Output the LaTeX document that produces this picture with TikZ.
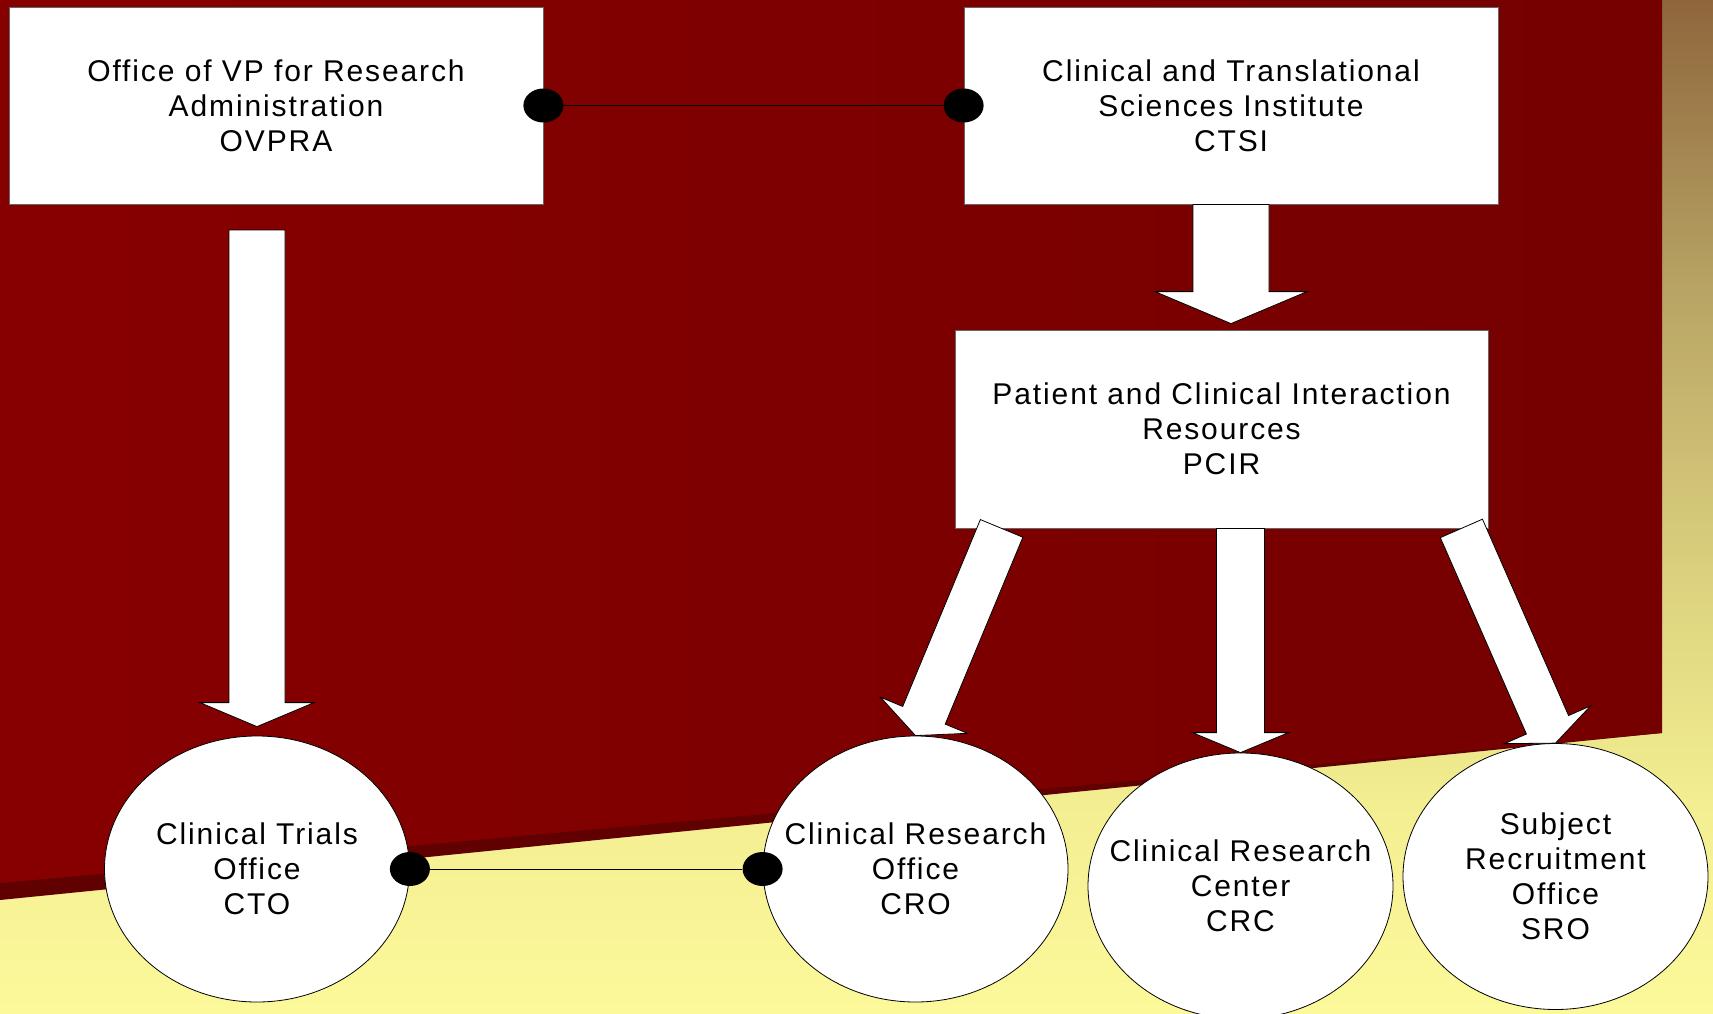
\documentclass[tikz,border=0pt]{standalone}
\usepackage{fontspec}
\setmainfont{Liberation Sans}[LetterSpace=6.3]
\usetikzlibrary{calc,shapes.geometric}
\definecolor{redL}{RGB}{135,0,0}
\definecolor{redR}{RGB}{117,0,0}
\definecolor{redS}{RGB}{96,0,0}
\definecolor{bgA}{RGB}{143,102,60}
\definecolor{bgB}{RGB}{185,166,102}
\definecolor{bgC}{RGB}{222,212,128}
\definecolor{bgD}{RGB}{243,238,145}
\definecolor{bgE}{RGB}{252,249,155}
\pgfdeclareverticalshading{bgshade}{100bp}{color(0bp)=(bgE); color(25bp)=(bgE); color(35.5bp)=(bgD); color(45.5bp)=(bgC); color(60.2bp)=(bgB); color(75bp)=(bgA); color(100bp)=(bgA)}
\newcommand{\blockarrow}[5]{%
  \coordinate (hb) at ($(#2)!#5!(#1)$);
  \draw[barrow] ($(#1)!#3!90:(#2)$) -- ($(hb)!#3!90:(#2)$) -- ($(hb)!#4!90:(#2)$) -- (#2)
    -- ($(hb)!#4!-90:(#2)$) -- ($(hb)!#3!-90:(#2)$) -- ($(#1)!#3!-90:(#2)$) -- cycle;
}
\begin{document}
\begin{tikzpicture}[x=1pt,y=-1pt,
  txt/.style={align=center,font=\fontsize{30}{35}\selectfont,text=black},
  box/.style={txt,rectangle,draw=black!60,line width=0.8pt,fill=white,minimum width=534pt,minimum height=197pt,inner sep=0pt},
  ell/.style={txt,ellipse,draw=black,line width=0.8pt,fill=white,minimum width=305pt,minimum height=266pt,inner sep=-45pt},
  dot/.style={ellipse,fill=black,minimum width=40pt,minimum height=34pt,inner sep=0pt},
  barrow/.style={fill=white,draw=black,line width=0.8pt,line join=miter},
  link/.style={draw=black,line width=1pt}]
\useasboundingbox (0,0) rectangle (1713,1014);
% background
\shade[shading=bgshade] (0,0) rectangle (1713,1014);
\fill[redS] (0,0) -- (1662,0) -- (1662,733) -- (0,900) -- cycle;
\shade[left color=redL,right color=redR] (0,0) -- (1662,0) -- (1662,733) -- (0,883) -- cycle;
% nodes
\node[box] (ovpra) at (276,105.5) {Office of VP for Research\\Administration\\OVPRA};
\node[box] (ctsi) at (1231,105.5) {Clinical and Translational\\Sciences Institute\\CTSI};
\node[box,minimum width=533pt,minimum height=198pt] (pcir) at (1221.5,429) {Patient and Clinical Interaction\\Resources\\PCIR};
\node[ell] (cto) at (257,869) {Clinical Trials\\Office\\CTO};
\node[ell] (cro) at (915.5,869) {Clinical Research\\Office\\CRO};
\node[ell] (crc) at (1240.5,886) {Clinical Research\\Center\\CRC};
\node[ell] (sro) at (1555.5,876.5) {Subject\\Recruitment\\Office\\SRO};
% links with dots
\node[dot] (d1) at (ovpra.east) {};
\node[dot] (d2) at (ctsi.west) {};
\node[dot] (d3) at (cto.east) {};
\node[dot] (d4) at (cro.west) {};
\draw[link] (d1) -- (d2);
\draw[link] (d3) -- (d4);
% block arrows
\coordinate (a1t) at (cto.north |- 0,230);
\coordinate (a1h) at ($(cto.north)+(0,-9)$);
\blockarrow{a1t}{a1h}{28pt}{57pt}{24pt}
\coordinate (a2t) at (ctsi.south);
\coordinate (a2h) at ($(ctsi.south |- pcir.north)+(0,-6)$);
\blockarrow{a2t}{a2h}{38pt}{76pt}{32pt}
\coordinate (a3t) at ($(pcir.south west)+(47,0)$);
\coordinate (a3h) at (cro.north);
\blockarrow{a3t}{a3h}{23pt}{47pt}{22pt}
\coordinate (a4t) at (crc.north |- pcir.south);
\coordinate (a4h) at (crc.north);
\blockarrow{a4t}{a4h}{24pt}{48pt}{20pt}
\coordinate (a5t) at ($(pcir.south east)+(-27,0)$);
\coordinate (a5h) at (sro.north);
\blockarrow{a5t}{a5h}{23pt}{47pt}{20pt}
\end{tikzpicture}
\end{document}
